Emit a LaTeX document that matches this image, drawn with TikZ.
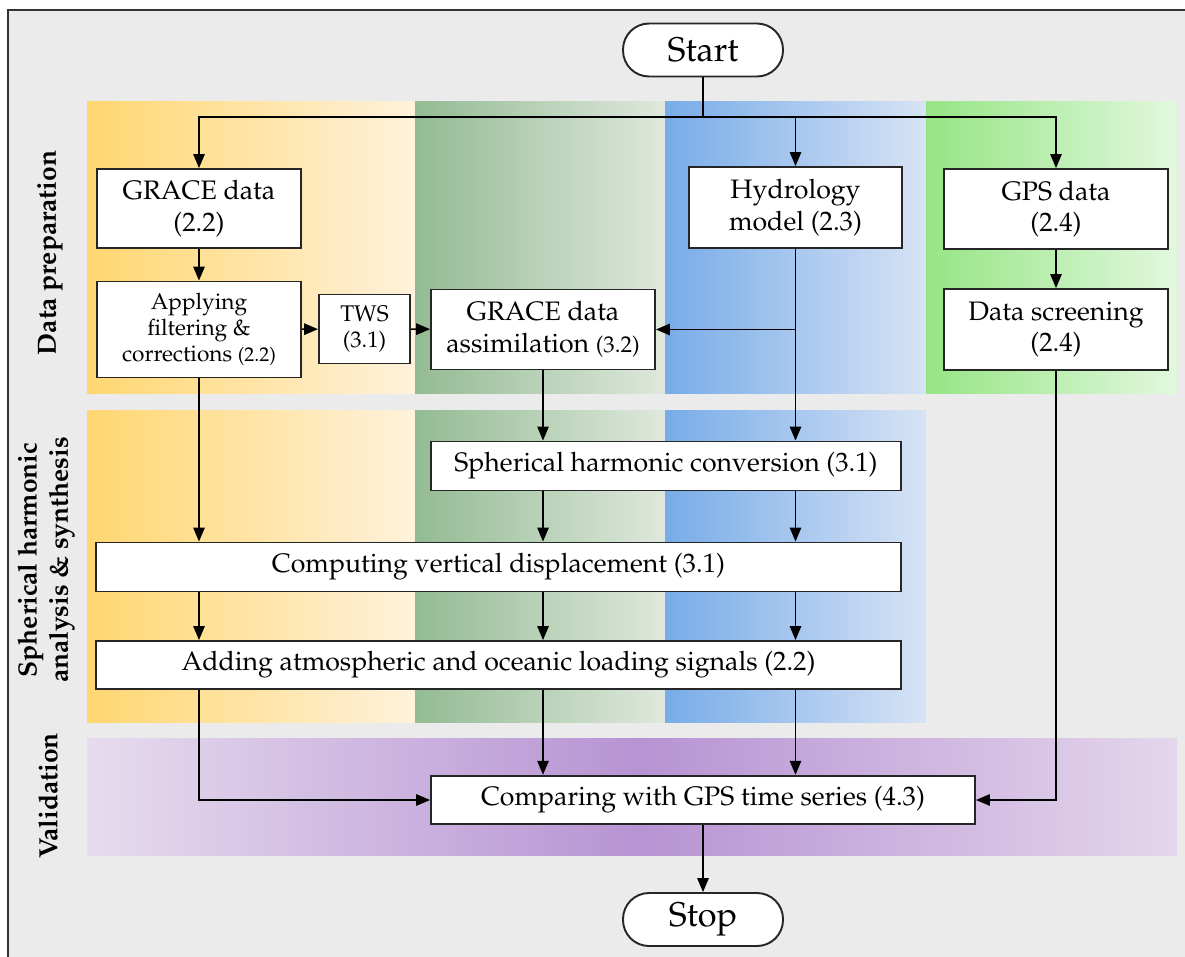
\documentclass[tikz,border=0pt]{standalone}
\usepackage[T1]{fontenc}
\usepackage{mathpazo}
\usetikzlibrary{arrows.meta,positioning}
\definecolor{bggray}{HTML}{EBEBEB}
\definecolor{orangeL}{HTML}{FFD670}
\definecolor{orangeR}{HTML}{FFF2DC}
\definecolor{greenL}{HTML}{93BB93}
\definecolor{greenR}{HTML}{DFE8DC}
\definecolor{blueL}{HTML}{78ACE8}
\definecolor{blueR}{HTML}{D7E3F5}
\definecolor{limeL}{HTML}{96E585}
\definecolor{limeR}{HTML}{E2F8DE}
\definecolor{purpC}{HTML}{B793D3}
\definecolor{purpL}{HTML}{E6DCEE}
\definecolor{purpR}{HTML}{E4D6EC}

\begin{document}
\begin{tikzpicture}[
    x=0.02cm, y=-0.02cm,
    box/.style={rectangle, draw=black!85, fill=white, line width=1.1pt, align=center, inner sep=1pt, font=\fontsize{15.2}{18}\selectfont},
    smallbox/.style={box, font=\fontsize{12.9}{15}\selectfont},
    term/.style={box, rounded corners=0.52cm, minimum width=3.2cm, minimum height=1.06cm, font=\fontsize{19.5}{22}\selectfont},
    arrow/.style={-{Triangle[length=2.8mm,width=2.3mm]}, line width=0.8pt, color=black},
    line/.style={line width=0.8pt, color=black},
    lane/.style={rotate=90, align=center, font=\bfseries\fontsize{15}{17.8}\selectfont}
]
% canvas and frame
\clip (0,0) rectangle (1185,956);
\fill[white] (0,0) rectangle (1185,956);
\filldraw[fill=bggray, draw=black!80, line width=0.9pt] (8,10) rectangle (1200,975);

% colour lanes
\shade[left color=orangeL, right color=orangeR] (87,102) rectangle (415,393);
\shade[left color=greenL, right color=greenR] (415,102) rectangle (665,393);
\shade[left color=blueL, right color=blueR] (665,102) rectangle (926,393);
\shade[left color=limeL, right color=limeR] (926,102) rectangle (1177,393);
\shade[left color=orangeL, right color=orangeR] (87,410) rectangle (415,722);
\shade[left color=greenL, right color=greenR] (415,410) rectangle (665,722);
\shade[left color=blueL, right color=blueR] (665,410) rectangle (926,722);
\shade[left color=purpL, right color=purpC] (87,738) rectangle (640,855);
\shade[left color=purpC, right color=purpR] (639,738) rectangle (1177,855);

% lane titles
\node[lane] (prep) at (50,253) {Data preparation};
\node[lane] (sha) at (46,560) {Spherical harmonic\\analysis \& synthesis};
\node[lane] (val) at (48,796) {Validation};

% nodes
\node[term] (start) at (703,50) {Start};
\node[box, minimum width=4.08cm, minimum height=1.58cm] (grace) at (199,208.5) {GRACE data\\(2.2)};
\node[smallbox, minimum width=4.08cm, minimum height=1.92cm] (apply) at (199,329.5) {Applying\\filtering \&\\corrections {\fontsize{11.3}{13}\selectfont(2.2)}};
\node[smallbox, minimum width=1.82cm, minimum height=1.38cm] (tws) at (364.5,329) {TWS\\(3.1)};
\node[box, minimum width=4.48cm, minimum height=1.6cm] (assim) at (543,329.5) {GRACE data\\assimilation {\fontsize{13}{15}\selectfont(3.2)}};
\node[box, minimum width=4.26cm, minimum height=1.62cm] (hydro) at (795.5,207.5) {Hydrology\\model (2.3)};
\node[box, minimum width=4.48cm, minimum height=1.6cm] (gps) at (1056,209) {GPS data\\(2.4)};
\node[box, minimum width=4.48cm, minimum height=1.62cm] (screen) at (1056,329.5) {Data screening\\(2.4)};
\node[box, minimum width=9.4cm, minimum height=0.98cm] (shc) at (666,466) {Spherical harmonic conversion (3.1)};
\node[box, minimum width=16.1cm, minimum height=0.98cm] (cvd) at (498.5,567) {Computing vertical displacement (3.1)};
\node[box, minimum width=16.1cm, minimum height=0.96cm] (load) at (498.5,665) {Adding atmospheric and oceanic loading signals (2.2)};
\node[box, minimum width=10.88cm, minimum height=0.97cm] (cmp) at (703,800) {Comparing with GPS time series (4.3)};
\node[term] (stop) at (703,919.5) {Stop};

% connectors
\coordinate (split) at (703,117);
\draw[line] (start) -- (split);
\foreach \n in {grace,hydro,gps}
    \draw[arrow] (split) -| (\n.north);
\draw[arrow] (grace) -- (apply);
\draw[arrow] (apply) -- (tws);
\draw[arrow] (tws) -- (assim);
\draw[arrow] (gps) -- (screen);
\draw[arrow] (hydro.south) -- (hydro.south |- shc.north);
\draw[arrow] (hydro.south |- assim.east) -- (assim.east);
\draw[arrow] (assim.south) -- (assim.south |- shc.north);
\draw[arrow] (apply.south) -- (apply.south |- cvd.north);
\foreach \n in {assim,hydro}
    \draw[arrow] (\n.south |- shc.south) -- (\n.south |- cvd.north);
\foreach \n in {apply,assim,hydro}
    \draw[arrow] (\n.south |- cvd.south) -- (\n.south |- load.north);
\draw[arrow] (apply.south |- load.south) |- (cmp.west);
\foreach \n in {assim,hydro}
    \draw[arrow] (\n.south |- load.south) -- (\n.south |- cmp.north);
\draw[arrow] (screen.south) |- (cmp.east);
\draw[arrow] (cmp) -- (stop);
\end{tikzpicture}
\end{document}
